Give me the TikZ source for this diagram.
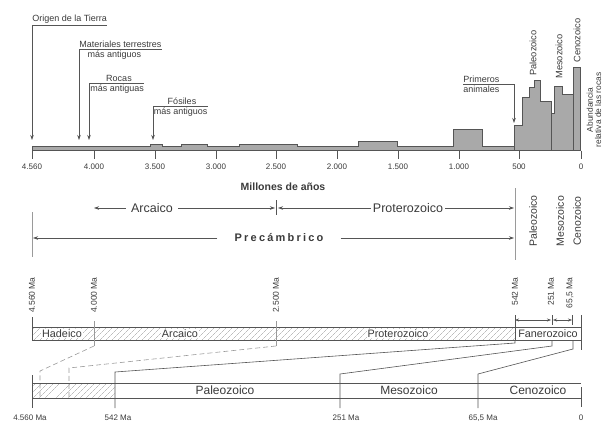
\documentclass[tikz,border=0pt]{standalone}
\usepackage{fontspec}
\setmainfont{Liberation Sans}
\usepackage{tikz}
\usetikzlibrary{arrows.meta}
\usetikzlibrary{patterns.meta}
\usepackage{color}
\definecolor{ink}{HTML}{3A3A3A}
\definecolor{rule}{HTML}{555555}
\definecolor{soft}{HTML}{9A9A9A}
\definecolor{histfill}{HTML}{A9A9A9}

\begin{document}
\begin{tikzpicture}[x=1pt,y=-1pt,draw=rule,text=ink,line width=0.6pt]

	\def \base{150.5}
	\def \mtop{327}
	\def \mbot{340}
	\def \btop{383}
	\def \bbot{398}
	\tikzstyle{annot}=[font=\fontsize{9}{10}\selectfont,inner xsep=0pt,inner ysep=1.2pt]
	\tikzstyle{tlabel}=[font=\fontsize{8}{9}\selectfont,inner sep=0pt]
	\tikzstyle{vlab}=[font=\fontsize{9.3}{10}\selectfont,rotate=90,anchor=west,inner sep=1pt]
	\tikzstyle{era}=[font=\fontsize{12.5}{14}\selectfont,inner ysep=0pt]
	\tikzstyle{eon}=[font=\fontsize{10.5}{12}\selectfont,rotate=90,inner sep=0pt]
	\tikzstyle{malabel}=[font=\fontsize{8.5}{9}\selectfont,rotate=90,anchor=east,inner sep=0pt]
	\tikzstyle{bartext}=[font=\fontsize{10.8}{12}\selectfont,fill=white,inner xsep=1pt,inner ysep=0.3pt]
	\tikzstyle{bigbar}=[font=\fontsize{12}{14}\selectfont,inner sep=0pt]
	\tikzstyle{arr}=[-{Stealth[length=5pt,width=3.5pt]}]
	\tikzstyle{dim}=[{Stealth[length=4pt,width=3pt]}-{Stealth[length=4pt,width=3pt]},line width=0.5pt]
	\tikzstyle{hatch}=[pattern={Lines[angle=45,distance=4pt,line width=0.45pt]},pattern color=soft]
	\tikzstyle{zoomline}=[soft,dash pattern=on 5pt off 3pt]

	\useasboundingbox (0,0) rectangle (605,423);

	% histogram of rock abundance
	\draw[fill=histfill] (32,\base) -- (32,146) -- (150,146) -- (150,144) -- (162,144) -- (162,146)
		-- (181,146) -- (181,144.3) -- (207,144.3) -- (207,146) -- (239,146) -- (239,144)
		-- (297,144) -- (297,146) -- (358,146) -- (358,141) -- (397,141) -- (397,146)
		-- (453,146) -- (453,129) -- (482,129) -- (482,146) -- (514,146) -- (514,125)
		-- (522,125) -- (522,97) -- (529,97) -- (529,87) -- (534,87) -- (534,80)
		-- (540,80) -- (540,101) -- (551,101) -- (551,113) -- (554,113) -- (554,86)
		-- (562,86) -- (562,94) -- (573,94) -- (573,67) -- (580,67) -- (580,\base) -- cycle;
	\draw (514,146) -- (514,\base);
	\draw (551,101) -- (551,\base);
	\draw (573,94) -- (573,\base);

	% axis
	\coordinate (a4560) at (32,\base);
	\coordinate (a4000) at (94,\base);
	\coordinate (a3500) at (155,\base);
	\coordinate (a3000) at (216,\base);
	\coordinate (a2500) at (276,\base);
	\coordinate (a2000) at (337,\base);
	\coordinate (a1500) at (398,\base);
	\coordinate (a1000) at (459,\base);
	\coordinate (a500)  at (519,\base);
	\coordinate (a0)    at (581,\base);
	\draw (a4560) -- (a0);
	\draw (a4560) -- ++(0,8);
	\draw (a4000) -- ++(0,8);
	\draw (a3500) -- ++(0,8);
	\draw (a3000) -- ++(0,8);
	\draw (a2500) -- ++(0,8);
	\draw (a2000) -- ++(0,8);
	\draw (a1500) -- ++(0,8);
	\draw (a1000) -- ++(0,8);
	\draw (a500)  -- ++(0,8);
	\draw (a0)    -- ++(0,8);
	\node[tlabel] (l4560) at (32,167)  {4.560};
	\node[tlabel] (l4000) at (94,167)  {4.000};
	\node[tlabel] (l3500) at (155,167) {3.500};
	\node[tlabel] (l3000) at (216,167) {3.000};
	\node[tlabel] (l2500) at (276,167) {2.500};
	\node[tlabel] (l2000) at (337,167) {2.000};
	\node[tlabel] (l1500) at (398,167) {1.500};
	\node[tlabel] (l1000) at (459,167) {1.000};
	\node[tlabel] (l500)  at (519,167) {500};
	\node[tlabel] (l0)    at (581,167) {0};

	% events
	\node[annot,anchor=south west] (origen) at (32,25) {Origen de la Tierra};
	\coordinate (origentip) at (32,140);
	\draw (origen.south west) -- (origen.south east);
	\draw[arr] (origen.south west) -- (origentip);

	\node[annot,anchor=south west] (mat) at (79,49) {Materiales terrestres};
	\node[annot,anchor=north] (matb) at (114.5,49) {más antiguos};
	\coordinate (mattip) at (79,140);
	\draw (mat.south west) -- (mat.south east);
	\draw[arr] (mat.south west) -- (mattip);

	\node[annot,anchor=north west] (rocb) at (90,83) {más antiguas};
	\node[annot,anchor=south] (roc) at (119,83) {Rocas};
	\coordinate (rocl) at (89,83);
	\coordinate (roctip) at (89,140);
	\draw (rocl) -- (rocb.north east);
	\draw[arr] (rocl) -- (roctip);

	\node[annot,anchor=north west] (fosb) at (153.5,106) {más antiguos};
	\node[annot,anchor=south] (fos) at (182,106) {Fósiles};
	\coordinate (fosl) at (153,106);
	\coordinate (fostip) at (153,140);
	\draw (fosl) -- (fosb.north east);
	\draw[arr] (fosl) -- (fostip);

	\node[annot,anchor=south west] (prim) at (463,84) {Primeros};
	\node[annot,anchor=north west] (primb) at (463,84) {animales};
	\coordinate (primc) at (514,84);
	\coordinate (primtip) at (514,123);
	\draw (prim.south west) -- (primc);
	\draw[arr] (primc) -- (primtip);

	% era labels over the histogram
	\node[vlab] (hpal) at (533,77) {Paleozoico};
	\node[vlab] (hmes) at (559,80) {Mesozoico};
	\node[vlab] (hcen) at (577,64) {Cenozoico};
	\node[font=\fontsize{8.4}{8.2}\selectfont,rotate=90,align=center,inner sep=0pt] (abund) at (594,110) {Abundancia\\relativa de las rocas};

	% eons
	\node[font=\bfseries\fontsize{10.5}{12}\selectfont] (mill) at (283,187) {Millones de años};
	\node[era,inner xsep=5pt] (arc) at (152,208) {Arcaico};
	\coordinate (arcl) at (94,208);
	\coordinate (arcr) at (275,208);
	\coordinate (prol) at (278,208);
	\coordinate (pror) at (514,208);
	\draw[arr] (arc.west) -- (arcl);
	\draw[arr] (arc.east) -- (arcr);
	\coordinate (divt) at (276,200);
	\coordinate (divb) at (276,215);
	\draw (divt) -- (divb);
	\node[era,inner xsep=2pt] (prot) at (408,208) {Proterozoico};
	\draw[arr] (prot.west) -- (prol);
	\draw[arr] (prot.east) -- (pror);

	\node[font=\bfseries\fontsize{11}{12}\selectfont\addfontfeature{LetterSpace=20},inner xsep=17pt,inner ysep=0pt] (prec) at (279,238) {Precámbrico};
	\coordinate (precl) at (33,238);
	\coordinate (precr) at (514,238);
	\draw[arr] (prec.west) -- (precl);
	\draw[arr] (prec.east) -- (precr);
	\coordinate (leftt) at (32,212);
	\coordinate (leftb) at (32,257);
	\coordinate (rightt) at (515,188);
	\coordinate (rightb) at (515,260);
	\draw[soft] (leftt) -- (leftb);
	\draw[soft] (rightt) -- (rightb);

	\node[eon] (epal) at (533,221) {Paleozoico};
	\node[eon] (emes) at (560,221) {Mesozoico};
	\node[eon] (ecen) at (577,221) {Cenozoico};

	% middle bar
	\node[malabel] (m4560) at (32,277)  {4.560 Ma};
	\node[malabel] (m4000) at (94,277)  {4.000 Ma};
	\node[malabel] (m2500) at (276,277) {2.500 Ma};
	\node[malabel] (m542)  at (515,277) {542 Ma};
	\node[malabel] (m251)  at (551,277) {251 Ma};
	\node[malabel] (m65)   at (570,277) {65,5 Ma};

	\coordinate (mtl) at (32,\mtop);
	\coordinate (mbl) at (32,\mbot);
	\coordinate (mtf) at (515,\mtop);
	\coordinate (mbf) at (515,\mbot);
	\coordinate (mtr) at (581,\mtop);
	\coordinate (mbr) at (581,\mbot);
	\fill[hatch] (mtl) rectangle (mbf);
	\draw (mtl) rectangle (mbr);
	\draw (mtf) -- (mbf);
	\draw[soft,thin] (94,321) -- (94,346);
	\draw[soft,thin] (276,321) -- (276,346);
	\draw (32,317) -- (mtl);
	\draw (581,315) -- (581,350);
	\draw (515,315) -- (mtf);
	\draw (552,315) -- (552,325);
	\draw (572,315) -- (572,325);
	\coordinate (d1) at (515,320);
	\coordinate (d2) at (552,320);
	\coordinate (d3) at (572,320);
	\draw[dim] (d1) -- ([xshift=-1pt]d2);
	\draw[dim] ([xshift=1pt]d2) -- (d3);

	\node[bartext] (bhad) at (62,333.5)  {Hadeico};
	\node[bartext] (barc) at (180,333.5) {Arcaico};
	\node[bartext] (bpro) at (398,333.5) {Proterozoico};
	\node[bartext] (bfan) at (548,333.5) {Fanerozoico};

	% expansion to the lower bar
	\coordinate (z1a) at (94,346);
	\coordinate (z1b) at (40,371);
	\coordinate (z1c) at (40,397);
	\coordinate (z2a) at (276,346);
	\coordinate (z2b) at (69,368);
	\coordinate (z2c) at (69,397);
	\draw[zoomline] (z1a) -- (z1b) -- (z1c);
	\draw[zoomline] (z2a) -- (z2b) -- (z2c);
	\coordinate (p542a) at (515,343);
	\coordinate (p542b) at (115,372);
	\coordinate (p542c) at (115,408);
	\coordinate (p251t) at (552,\mbot);
	\coordinate (p251a) at (552,346);
	\coordinate (p251b) at (340,374);
	\coordinate (p251c) at (340,408);
	\coordinate (p65t) at (573,\mbot);
	\coordinate (p65a) at (573,349);
	\coordinate (p65b) at (478,374);
	\coordinate (p65c) at (478,408);
	\draw (mbf) -- (p542a) -- (p542b) -- (p542c);
	\draw (p251t) -- (p251a) -- (p251b) -- (p251c);
	\draw (p65t) -- (p65a) -- (p65b) -- (p65c);

	% lower bar
	\coordinate (btl) at (32,\btop);
	\coordinate (bbl) at (32,\bbot);
	\coordinate (btr) at (581,\btop);
	\coordinate (bbr) at (581,\bbot);
	\fill[hatch] (btl) rectangle (115,\bbot);
	\draw (btl) -- (btr);
	\draw (bbl) -- (bbr);
	\draw (32,375) -- (32,408);
	\draw (581,387) -- (581,407);

	\node[bigbar] (lpal) at (225,390.5) {Paleozoico};
	\node[bigbar] (lmes) at (409,390.5) {Mesozoico};
	\node[bigbar] (lcen) at (538,390.5) {Cenozoico};

	\node[tlabel] (b4560) at (30,418)  {4.560 Ma};
	\node[tlabel] (b542)  at (118,418) {542 Ma};
	\node[tlabel] (b251)  at (346,418) {251 Ma};
	\node[tlabel] (b65)   at (483,418) {65,5 Ma};
	\node[tlabel] (b0)    at (581,418) {0};
\end{tikzpicture}
\end{document}
